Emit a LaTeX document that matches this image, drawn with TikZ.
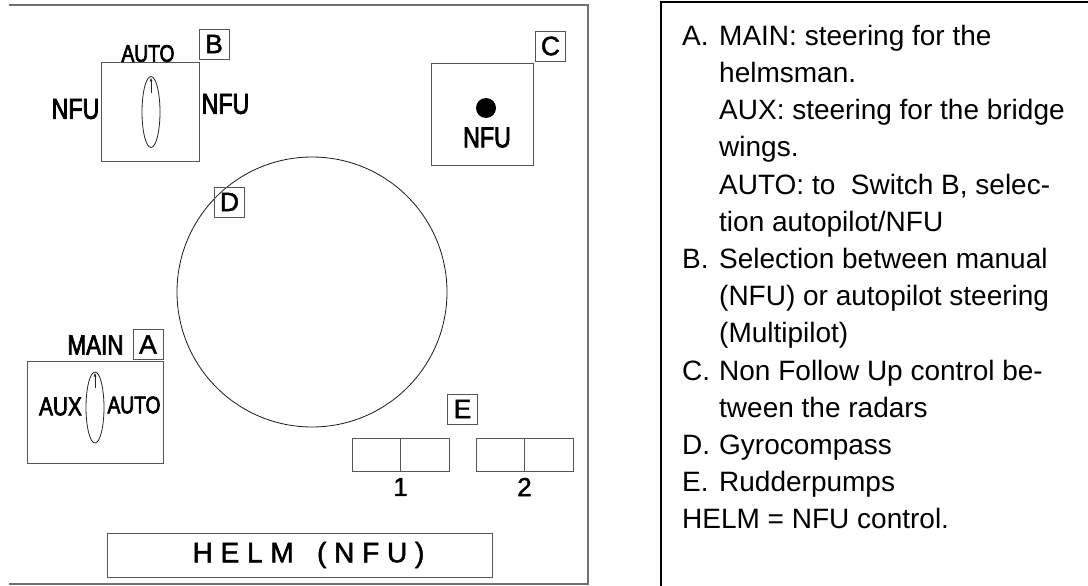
\documentclass[tikz,border=0pt]{standalone}
\usepackage{fontspec}
\setmainfont{Liberation Sans}
\newfontfamily\narrowsans[FakeStretch=0.8, FakeBold=2.6]{Liberation Sans}
\newfontfamily\heavysans[FakeBold=1.8]{Liberation Sans}
\usepackage{xcolor}
\definecolor{boxgray}{HTML}{555555}
\definecolor{framegray}{HTML}{707070}
\usepackage{tikz}
\usetikzlibrary{arrows.meta}
\tikzset{
  >={Latex[length=4pt,width=3pt]},
  every picture/.style={line cap=butt, line join=miter},
  tag/.style={draw=boxgray, line width=0.9pt, inner sep=0pt, minimum size=30pt,
    font=\heavysans\fontsize{26.5}{30}\selectfont},
  panelbox/.style={draw=boxgray, line width=0.9pt, inner sep=0pt},
  swlbl/.style={inner sep=0pt, font=\narrowsans\fontsize{#1}{#1}\selectfont},
  swlbl/.default=29,
  knob/.style={black!85, line width=0.8pt},
  frame/.style={framegray, line width=1.1pt},
}

\begin{document}
\begin{tikzpicture}[x=1pt, y=-1pt]
\useasboundingbox (0,0) rectangle (1088,586);
% console outline
\draw[frame] (9,5) -- (588,5) -- (588,584) -- (9,584);
\draw[black, line width=1.6pt] (661,586) -- (661,2) -- (1088,2);
% switch B
\node[panelbox, minimum width=98pt, minimum height=99pt] (switchB) at (150,111.5) {};
\draw[knob] (151,112) ellipse (9 and 35.5);
\draw[knob, ->] (151,93) -- (151,77.5);
\node[swlbl=24] (autoB) at (148,53.5) {AUTO};
\node[swlbl] (nfuL) at (75.5,109) {NFU};
\node[swlbl] (nfuR) at (225.5,104) {NFU};
\node[tag] (tagB) at (214,44) {B};
% NFU control C
\node[panelbox, minimum width=102pt, minimum height=102pt] (ctrlC) at (482,114) {};
\fill (486,108) circle (10);
\node[swlbl] (nfuC) at (487,137.5) {NFU};
\node[tag] (tagC) at (550.5,46) {C};
% gyrocompass D
\draw[black!90, line width=0.8pt] (312,292) circle (135);
\node[tag] (tagD) at (229.5,202) {D};
% switch A
\node[panelbox, minimum width=136pt, minimum height=102pt] (switchA) at (95,412) {};
\draw[knob] (95,407.5) ellipse (9 and 35.5);
\draw[knob, ->] (95,388) -- (95,372.5);
\node[swlbl=28] (mainA) at (95.5,345) {MAIN};
\node[swlbl=26] (auxA) at (60.5,406.5) {AUX};
\node[swlbl=24] (autoA) at (134,405) {AUTO};
\node[tag] (tagA) at (148,344.5) {A};
% rudderpumps E
\node[tag] (tagE) at (462.5,409) {E};
\foreach \n/\x in {1/400.5,2/524.5} {
  \node[panelbox, minimum width=97pt, minimum height=33pt] (pump\n) at (\x,454.5) {};
  \draw[boxgray, line width=0.9pt] (pump\n.north) -- (pump\n.south);
  \node[inner sep=0pt, font=\heavysans\fontsize{26}{30}\selectfont] (num\n) at (\x,487) {\n};
}
% helm
\node[panelbox, minimum width=385pt, minimum height=44pt] (helm) at (299.5,555) {};
\node[inner sep=0pt, font=\heavysans\fontsize{28}{30}\selectfont] (helmtext) at ([xshift=9pt]helm.center)
  {H E L M\ \ \ ( N F U )};
% legend
\node[anchor=north west, inner sep=0pt, font=\fontsize{28}{37.2}\selectfont] (legend) at (682,19) {%
\begin{tabular}{@{}p{37pt}@{}l@{}}
A. & MAIN: steering for the\\
   & helmsman.\\
   & AUX: steering for the bridge\\
   & wings.\\
   & AUTO: to\ \ Switch B, selec-\\
   & tion autopilot/NFU\\
B. & Selection between manual\\
   & (NFU) or autopilot steering\\
   & (Multipilot)\\
C. & Non Follow Up control be-\\
   & tween the radars\\
D. & Gyrocompass\\
E. & Rudderpumps\\
\multicolumn{2}{@{}l@{}}{HELM = NFU control.}
\end{tabular}};
\end{tikzpicture}
\end{document}
